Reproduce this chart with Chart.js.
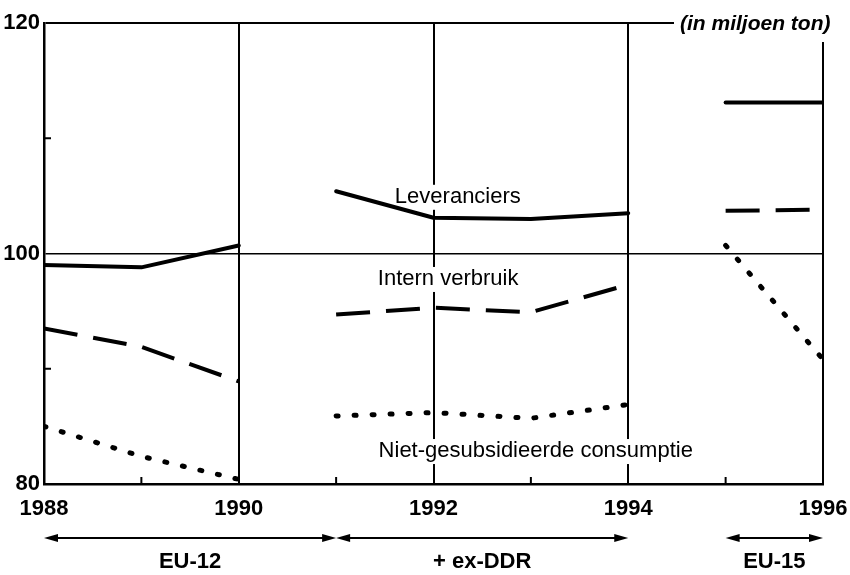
<!DOCTYPE html>
<html>
<head>
<meta charset="utf-8">
<script src="https://cdn.jsdelivr.net/npm/chart.js@4.4.1/dist/chart.umd.min.js"></script>
<style>
  html, body { margin: 0; padding: 0; background: #fff; }
  #chart { display: block; }
</style>
</head>
<body>
<canvas id="chart" width="850" height="575"></canvas>
<script>
const years = [1988, 1989, 1990, 1991, 1992, 1993, 1994, 1995, 1996];
const leveranciers = [99.0, 98.8, 100.7, 105.4, 103.1, 103.0, 103.5, 113.1, 113.1];
const internVerbruik = [93.5, 91.9, 88.9, 94.7, 95.3, 94.9, 97.3, 103.7, 103.8];
const nietGesubsidieerd = [85.0, 82.4, 80.4, 85.9, 86.2, 85.7, 86.9, 100.7, 90.8];
// no line is drawn from these years to the next one
const breakAfter = [1990, 1994];
const yTicks = [80, 100, 120];
const minorYTicks = [90, 110];
const minorXTicks = [1989, 1991, 1993, 1995];
const periodLabels = ['EU-12', '+ ex-DDR', 'EU-15'];
const periodStart = [1988, 1991, 1995];
const periodEnd = [1991, 1994, 1996];
const seriesLabels = ['Leveranciers', 'Intern verbruik', 'Niet-gesubsidieerde consumptie'];
const unitLabel = '(in miljoen ton)';

const FONT = '"Liberation Sans", Arial, Helvetica, sans-serif';

function seriesPoints(values) {
    return years.map((year, i) => ({ x: year, y: values[i] }));
}

const gapColor = ctx => breakAfter.includes(ctx.p0.parsed.x) ? 'rgba(0,0,0,0)' : '#000';

function textWithBox(ctx, text, x, y) {
    const w = ctx.measureText(text).width;
    ctx.fillStyle = '#fff';
    ctx.fillRect(x - w / 2 - 4, y - 18, w + 8, 25);
    ctx.fillStyle = '#000';
    ctx.fillText(text, x, y);
}

function arrowHead(ctx, x, y, dir) {
    ctx.beginPath();
    ctx.moveTo(x, y);
    ctx.lineTo(x - dir * 14, y - 4);
    ctx.lineTo(x - dir * 14, y + 4);
    ctx.closePath();
    ctx.fill();
}

const annotations = {
    id: 'annotations',
    beforeDatasetsDraw(chart) {
        const { ctx, scales: { x, y } } = chart;
        ctx.save();
        ctx.font = '22px ' + FONT;
        ctx.textAlign = 'center';
        ctx.textBaseline = 'alphabetic';
        textWithBox(ctx, seriesLabels[0], x.getPixelForValue(1992.25), y.getPixelForValue(104.4));
        textWithBox(ctx, seriesLabels[1], x.getPixelForValue(1992.15), y.getPixelForValue(97.27));
        textWithBox(ctx, seriesLabels[2], x.getPixelForValue(1993.05), y.getPixelForValue(82.34));
        ctx.restore();
    },
    afterDraw(chart) {
        const { ctx, chartArea, scales: { x, y } } = chart;
        ctx.save();
        ctx.strokeStyle = '#000';
        ctx.fillStyle = '#000';
        ctx.lineWidth = 2;

        // small ticks
        minorYTicks.forEach(v => {
            const py = y.getPixelForValue(v);
            ctx.beginPath();
            ctx.moveTo(chartArea.left, py);
            ctx.lineTo(chartArea.left + 7, py);
            ctx.stroke();
        });
        minorXTicks.forEach(v => {
            const px = x.getPixelForValue(v);
            ctx.beginPath();
            ctx.moveTo(px, chartArea.bottom);
            ctx.lineTo(px, chartArea.bottom - 7);
            ctx.stroke();
        });

        // unit label cuts the top right corner of the frame
        ctx.font = 'italic bold 21px ' + FONT;
        ctx.textAlign = 'left';
        ctx.textBaseline = 'middle';
        ctx.fillStyle = '#fff';
        ctx.fillRect(674, 0, 176, 42);
        ctx.fillStyle = '#000';
        ctx.fillText(unitLabel, 680, chartArea.top + 1);

        // period arrows below the axis
        const arrowY = 538;
        ctx.font = 'bold 22px ' + FONT;
        ctx.textAlign = 'center';
        periodLabels.forEach((label, i) => {
            const x0 = x.getPixelForValue(periodStart[i]);
            const x1 = x.getPixelForValue(periodEnd[i]);
            ctx.beginPath();
            ctx.moveTo(x0 + 4, arrowY);
            ctx.lineTo(x1 - 4, arrowY);
            ctx.stroke();
            arrowHead(ctx, x0, arrowY, -1);
            arrowHead(ctx, x1, arrowY, 1);
            ctx.fillText(label, (x0 + x1) / 2, 562);
        });
        ctx.restore();
    }
};

new Chart(document.getElementById('chart'), {
    type: 'line',
    data: {
        datasets: [
            {
                label: seriesLabels[0],
                data: seriesPoints(leveranciers),
                borderColor: '#000',
                borderWidth: 4,
                borderCapStyle: 'round',
                borderJoinStyle: 'round',
                pointRadius: 0,
                segment: { borderColor: gapColor }
            },
            {
                label: seriesLabels[1],
                data: seriesPoints(internVerbruik),
                borderColor: '#000',
                borderWidth: 4,
                borderDash: [34, 16],
                borderCapStyle: 'butt',
                pointRadius: 0,
                segment: { borderColor: gapColor }
            },
            {
                label: seriesLabels[2],
                data: seriesPoints(nietGesubsidieerd),
                borderColor: '#000',
                borderWidth: 5,
                borderDash: [2, 16],
                borderCapStyle: 'round',
                pointRadius: 0,
                segment: { borderColor: gapColor }
            }
        ]
    },
    options: {
        responsive: false,
        animation: false,
        layout: { padding: { top: 23, right: 27, left: 0, bottom: 0 } },
        plugins: {
            legend: { display: false },
            tooltip: { enabled: false }
        },
        scales: {
            x: {
                type: 'linear',
                min: 1988,
                max: 1996,
                afterFit: scale => {
                    scale.height = 91;
                    scale.paddingLeft = 0;
                    scale.paddingRight = 0;
                },
                ticks: {
                    stepSize: 2,
                    color: '#000',
                    padding: 12,
                    maxRotation: 0,
                    font: { family: FONT, size: 22, weight: 'bold' },
                    callback: v => String(v)
                },
                grid: { color: '#000', lineWidth: 2, drawTicks: false },
                border: { color: '#000', width: 2.5 }
            },
            y: {
                min: 80,
                max: 120,
                afterFit: scale => {
                    scale.width = 44;
                    scale.paddingTop = 0;
                    scale.paddingBottom = 0;
                },
                afterBuildTicks: scale => { scale.ticks = yTicks.map(v => ({ value: v })); },
                ticks: {
                    color: '#000',
                    padding: 4,
                    font: { family: FONT, size: 22, weight: 'bold' }
                },
                grid: {
                    color: '#000',
                    lineWidth: ctx => (ctx.tick && ctx.tick.value === 100) ? 1.5 : 2,
                    drawTicks: false
                },
                border: { color: '#000', width: 2.5 }
            }
        }
    },
    plugins: [annotations]
});
</script>
</body>
</html>
